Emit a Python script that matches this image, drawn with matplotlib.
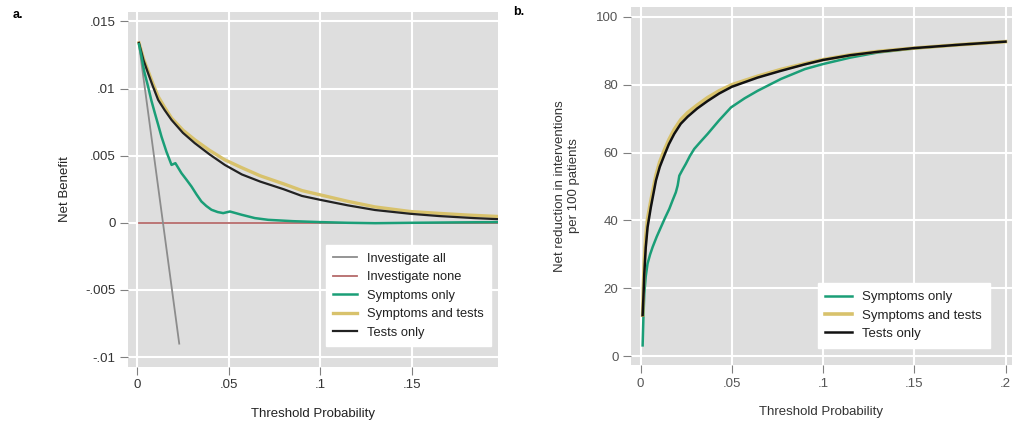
import numpy as np
import matplotlib
matplotlib.use('Agg')
import matplotlib.pyplot as plt

plt.rcParams['font.family'] = ['Liberation Sans', 'DejaVu Sans']

# ---- panel a: net benefit ----
a_all_x = [0.001, 0.023]
a_all_y = [0.0133, -0.0090]
a_none_x = [0.001, 0.197]
a_none_y = [0.0, 0.0]

a_symp_x = [0.001, 0.0024, 0.004, 0.006, 0.0078, 0.0097, 0.0115, 0.0133, 0.016, 0.0188,
            0.0209, 0.0242, 0.027, 0.0297, 0.0325, 0.0351, 0.0378, 0.0406, 0.044, 0.047,
            0.0507, 0.057, 0.0643, 0.0716, 0.085, 0.1, 0.115, 0.13, 0.15, 0.175, 0.197]
a_symp_y = [0.0133, 0.01237, 0.0112, 0.01014, 0.0091, 0.00816, 0.0073, 0.00642, 0.0053, 0.00431,
            0.00444, 0.0037, 0.0032, 0.0027, 0.0021, 0.00159, 0.00125, 0.00097, 0.0008, 0.00072,
            0.00084, 0.0006, 0.00035, 0.00022, 0.00012, 0.00005, 0.0, -0.00003, 0.0, 0.00003, 0.00005]

a_both_x = [0.001, 0.0035, 0.006, 0.0085, 0.0115, 0.015, 0.0188, 0.025, 0.0315, 0.0395, 0.0479,
            0.0572, 0.0672, 0.08, 0.09, 0.1, 0.115, 0.13, 0.1492, 0.165, 0.18, 0.197]
a_both_y = [0.0134, 0.0122, 0.0113, 0.0104, 0.0094, 0.0086, 0.0078, 0.0069, 0.00618, 0.0054, 0.00469,
            0.0041, 0.0035, 0.0029, 0.0024, 0.00208, 0.0016, 0.00118, 0.00084, 0.0007, 0.00058, 0.00047]

a_test_x = [0.001, 0.0035, 0.006, 0.0085, 0.0115, 0.015, 0.0188, 0.025, 0.0315, 0.0395, 0.0479,
            0.0572, 0.0672, 0.08, 0.09, 0.1, 0.115, 0.13, 0.1492, 0.165, 0.184, 0.197]
a_test_y = [0.0134, 0.0121, 0.01114, 0.0102, 0.00915, 0.0084, 0.00766, 0.0067, 0.00593, 0.0051, 0.00431,
            0.0036, 0.00307, 0.0025, 0.0020, 0.00171, 0.0013, 0.00095, 0.00067, 0.0005, 0.00035, 0.00027]

# ---- panel b: net reduction in interventions ----
b_symp_x = [0.0011, 0.0015, 0.002, 0.0028, 0.0038, 0.0052, 0.0066, 0.0088, 0.0111, 0.0134, 0.0157,
            0.0175, 0.0193, 0.0203, 0.0212, 0.023, 0.0248, 0.027, 0.0294, 0.033, 0.0367, 0.043,
            0.0495, 0.057, 0.0641, 0.0769, 0.09, 0.1, 0.115, 0.13, 0.15, 0.175, 0.2]
b_symp_y = [3.2, 11.0, 18.4, 23.5, 27.3, 30.0, 32.2, 35.2, 38.0, 40.8, 43.4,
            45.9, 48.3, 50.3, 53.2, 55.0, 56.7, 59.0, 61.1, 63.3, 65.5, 69.5,
            73.3, 76.0, 78.2, 81.7, 84.6, 86.1, 88.0, 89.5, 90.7, 91.8, 92.7]

b_both_x = [0.0011, 0.0015, 0.002, 0.0028, 0.0038, 0.0056, 0.0084, 0.0105, 0.0129, 0.0155, 0.0184,
            0.022, 0.0258, 0.031, 0.0367, 0.043, 0.05, 0.0641, 0.0769, 0.09, 0.1, 0.115, 0.13,
            0.15, 0.175, 0.2]
b_both_y = [12.1, 20.0, 28.0, 35.0, 40.5, 45.8, 53.3, 57.3, 60.6, 63.8, 66.8,
            69.7, 71.8, 74.0, 76.2, 78.2, 80.0, 82.5, 84.5, 86.2, 87.4, 88.8, 89.8,
            90.8, 91.8, 92.7]

b_test_x = [0.0011, 0.0015, 0.002, 0.0028, 0.0038, 0.0056, 0.0084, 0.0105, 0.0129, 0.0155, 0.0184,
            0.022, 0.0258, 0.031, 0.0367, 0.043, 0.05, 0.0641, 0.0769, 0.09, 0.1, 0.115, 0.13,
            0.15, 0.175, 0.2]
b_test_y = [12.1, 17.0, 24.3, 32.0, 38.0, 43.9, 51.8, 55.8, 59.1, 62.5, 65.5,
            68.5, 70.6, 73.0, 75.2, 77.4, 79.4, 82.1, 84.1, 86.0, 87.3, 88.7, 89.7,
            90.8, 91.8, 92.7]

xticks_a = [0, 0.05, 0.1, 0.15]
xticks_b = [0, 0.05, 0.1, 0.15, 0.2]
xlabels_a = ['0', '.05', '.1', '.15']
xlabels_b = ['0', '.05', '.1', '.15', '.2']
yticks_a = [-0.01, -0.005, 0, 0.005, 0.01, 0.015]
ylabels_a = ['-.01', '-.005', '0', '.005', '.01', '.015']
yticks_b = [0, 20, 40, 60, 80, 100]

GREEN = '#1a9e77'
TAN = '#d8c26c'
BG = '#dedede'

fig = plt.figure(figsize=(10.18, 4.25), dpi=100)
ax1 = fig.add_axes([0.1257, 0.1365, 0.3633, 0.8353])
ax2 = fig.add_axes([0.6198, 0.141, 0.3742, 0.8425])

for ax in (ax1, ax2):
    ax.set_facecolor(BG)
    for s in ax.spines.values():
        s.set_visible(False)
    ax.grid(True, color='white', lw=1.5)
    ax.set_axisbelow(True)
    ax.tick_params(direction='out', length=6, width=0.8, color='#808080',
                   labelsize=9.5, pad=3)

# panel a
ax1.plot(a_none_x, a_none_y, color='#b56a6a', lw=1.3, label='Investigate none', zorder=2)
ax1.plot(a_all_x, a_all_y, color='#8c8c8c', lw=1.3, label='Investigate all', zorder=3)
ax1.plot(a_both_x, a_both_y, color=TAN, lw=2.4, label='Symptoms and tests', zorder=4)
ax1.plot(a_test_x, a_test_y, color='#222222', lw=1.6, label='Tests only', zorder=5)
ax1.plot(a_symp_x, a_symp_y, color=GREEN, lw=1.8, label='Symptoms only', zorder=6)
ax1.set_xlim(-0.005, 0.197)
ax1.set_ylim(-0.01074, 0.0157)
ax1.set_xticks(xticks_a, xlabels_a)
ax1.set_yticks(yticks_a, ylabels_a)
ax1.tick_params(labelcolor='#333333')
ax1.set_xlabel('Threshold Probability', fontsize=9.5, labelpad=12, color='#222222')
ax1.set_ylabel('Net Benefit', fontsize=9.5, labelpad=10, color='#222222')
h, l = ax1.get_legend_handles_labels()
order = ['Investigate all', 'Investigate none', 'Symptoms only', 'Symptoms and tests', 'Tests only']
hh = [h[l.index(o)] for o in order]
leg = ax1.legend(hh, order, loc='lower right', bbox_to_anchor=(1.0, 0.04), fontsize=9.3,
                 frameon=True, fancybox=False, framealpha=1, edgecolor='white',
                 handlelength=1.8, labelspacing=0.5, borderpad=0.6)
for t in leg.get_texts():
    t.set_color('#222222')

# panel b
ax2.plot(b_symp_x, b_symp_y, color=GREEN, lw=1.8, label='Symptoms only')
ax2.plot(b_both_x, b_both_y, color=TAN, lw=2.6, label='Symptoms and tests')
ax2.plot(b_test_x, b_test_y, color='#111111', lw=1.8, label='Tests only')
ax2.set_xlim(-0.0053, 0.2035)
ax2.set_ylim(-2.6, 102.9)
ax2.set_xticks(xticks_b, xlabels_b)
ax2.set_yticks(yticks_b)
ax2.tick_params(labelcolor='#555555')
ax2.set_xlabel('Threshold Probability', fontsize=9.5, labelpad=12, color='#333333')
ax2.set_ylabel('Net reduction in interventions\nper 100 patients', fontsize=9.5,
               labelpad=12, color='#333333')
leg2 = ax2.legend(loc='lower right', bbox_to_anchor=(0.96, 0.03), fontsize=9.5,
                  frameon=True, fancybox=False, framealpha=1, edgecolor='white',
                  handlelength=2.0, labelspacing=0.45, borderpad=0.6)
for t in leg2.get_texts():
    t.set_color('#222222')

fig.text(0.012, 0.965, 'a.', fontsize=9, fontweight='bold', va='center')
fig.text(0.504, 0.972, 'b.', fontsize=9, fontweight='bold', va='center')

fig.savefig('out.png', dpi=100)
